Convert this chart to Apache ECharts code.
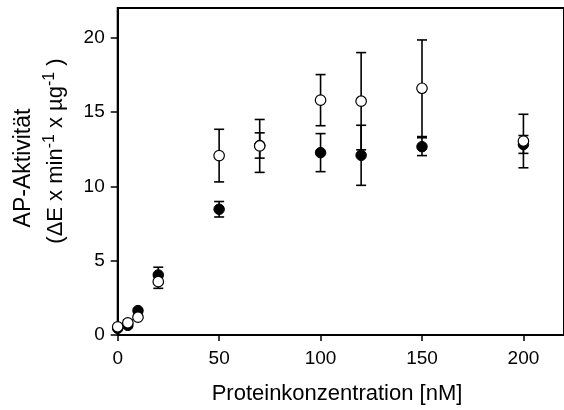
<!DOCTYPE html>
<html>
<head>
<meta charset="utf-8">
<script src="https://cdn.jsdelivr.net/npm/echarts@6/dist/echarts.min.js"></script>
<style>
html,body{margin:0;padding:0;background:#fff;}
#chart{width:564px;height:410px;}
</style>
</head>
<body>
<div id="chart"></div>
<script>
const concentrations = [0, 5, 10, 20, 50, 70, 100, 120, 150, 200];
const filledMean = [0.45, 0.65, 1.64, 4.04, 8.46, 12.75, 12.27, 12.09, 12.67, 12.82];
const filledErr  = [0.05, 0.15, 0.10, 0.52, 0.52, 0.85, 1.28, 2.02, 0.60, 0.60];
const openMean   = [0.55, 0.82, 1.20, 3.59, 12.07, 12.72, 15.80, 15.73, 16.60, 13.05];
const openErr    = [0.05, 0.20, 0.10, 0.45, 1.77, 1.78, 1.72, 3.27, 3.25, 1.80];
const xTicks = [0, 50, 100, 150, 200];
const yTicks = [0, 5, 10, 15, 20];
const xTitle = 'Proteinkonzentration [nM]';
const yTitle1 = 'AP-Aktivität';

const FONT = '"Liberation Sans", Arial, sans-serif';

function pts(mean) { return concentrations.map((c, i) => [c, mean[i]]); }
function bars(mean, err) { return concentrations.map((c, i) => [c, mean[i] - err[i], mean[i] + err[i]]); }

function errRender(params, api) {
  const x = api.value(0), lo = api.value(1), hi = api.value(2);
  const a = api.coord([x, hi]), b = api.coord([x, lo]);
  const w = 5;
  const st = {stroke: '#000', lineWidth: 1.6};
  return {type: 'group', children: [
    {type: 'line', shape: {x1: a[0], y1: a[1], x2: b[0], y2: b[1]}, style: st},
    {type: 'line', shape: {x1: a[0] - w, y1: a[1], x2: a[0] + w, y2: a[1]}, style: st},
    {type: 'line', shape: {x1: b[0] - w, y1: b[1], x2: b[0] + w, y2: b[1]}, style: st}
  ]};
}

const chart = echarts.init(document.getElementById('chart'), null, {renderer: 'canvas'});
chart.setOption({
  animation: false,
  backgroundColor: '#fff',
  grid: {left: 117.7, top: 8, width: 448.8, height: 327, show: true, borderColor: '#000', borderWidth: 2, backgroundColor: 'transparent'},
  xAxis: {
    type: 'value', min: 0, max: 220,
    axisLine: {show: true, onZero: false, lineStyle: {color: '#000', width: 2}},
    axisTick: {show: true, length: 6, lineStyle: {color: '#000', width: 1.5}, customValues: xTicks},
    axisLabel: {color: '#000', fontSize: 19, fontFamily: FONT, margin: 14, customValues: xTicks},
    splitLine: {show: false}
  },
  yAxis: {
    type: 'value', min: 0, max: 22,
    axisLine: {show: true, onZero: false, lineStyle: {color: '#000', width: 2}},
    axisTick: {show: true, length: 7, lineStyle: {color: '#000', width: 1.5}, customValues: yTicks},
    axisLabel: {color: '#000', fontSize: 19, fontFamily: FONT, margin: 13, customValues: yTicks},
    splitLine: {show: false}
  },
  graphic: [
    {type: 'text', x: 337, y: 394, z: 100, style: {text: xTitle, font: '22px ' + FONT, fill: '#000', textAlign: 'center', textVerticalAlign: 'middle'}},
    {type: 'text', x: 24, y: 168, rotation: Math.PI / 2, z: 100, style: {text: yTitle1, font: '23px ' + FONT, fill: '#000', textAlign: 'center', textVerticalAlign: 'middle'}},
    {type: 'text', x: 56, y: 151, rotation: Math.PI / 2, z: 100, style: {
      text: '{n|(ΔE x min}{s|-1}{n| x µg}{s|-1}{n| )}',
      fill: '#000', textAlign: 'center', textVerticalAlign: 'middle',
      rich: {
        n: {fontSize: 22, fontFamily: FONT, fill: '#000'},
        s: {fontSize: 16, fontFamily: FONT, fill: '#000', padding: [0, 0, 12, 0]}
      }
    }}
  ],
  series: [
    {type: 'custom', renderItem: errRender, data: bars(filledMean, filledErr), z: 1, silent: true},
    {type: 'custom', renderItem: errRender, data: bars(openMean, openErr), z: 1, silent: true},
    {type: 'scatter', data: pts(filledMean), symbol: 'circle', symbolSize: 10.5, z: 3,
      itemStyle: {color: '#000', borderColor: '#000', borderWidth: 1, opacity: 1}},
    {type: 'scatter', data: pts(openMean), symbol: 'circle', symbolSize: 10.5, z: 4,
      itemStyle: {color: '#fff', borderColor: '#000', borderWidth: 1.2, opacity: 1}}
  ]
});
</script>
</body>
</html>
